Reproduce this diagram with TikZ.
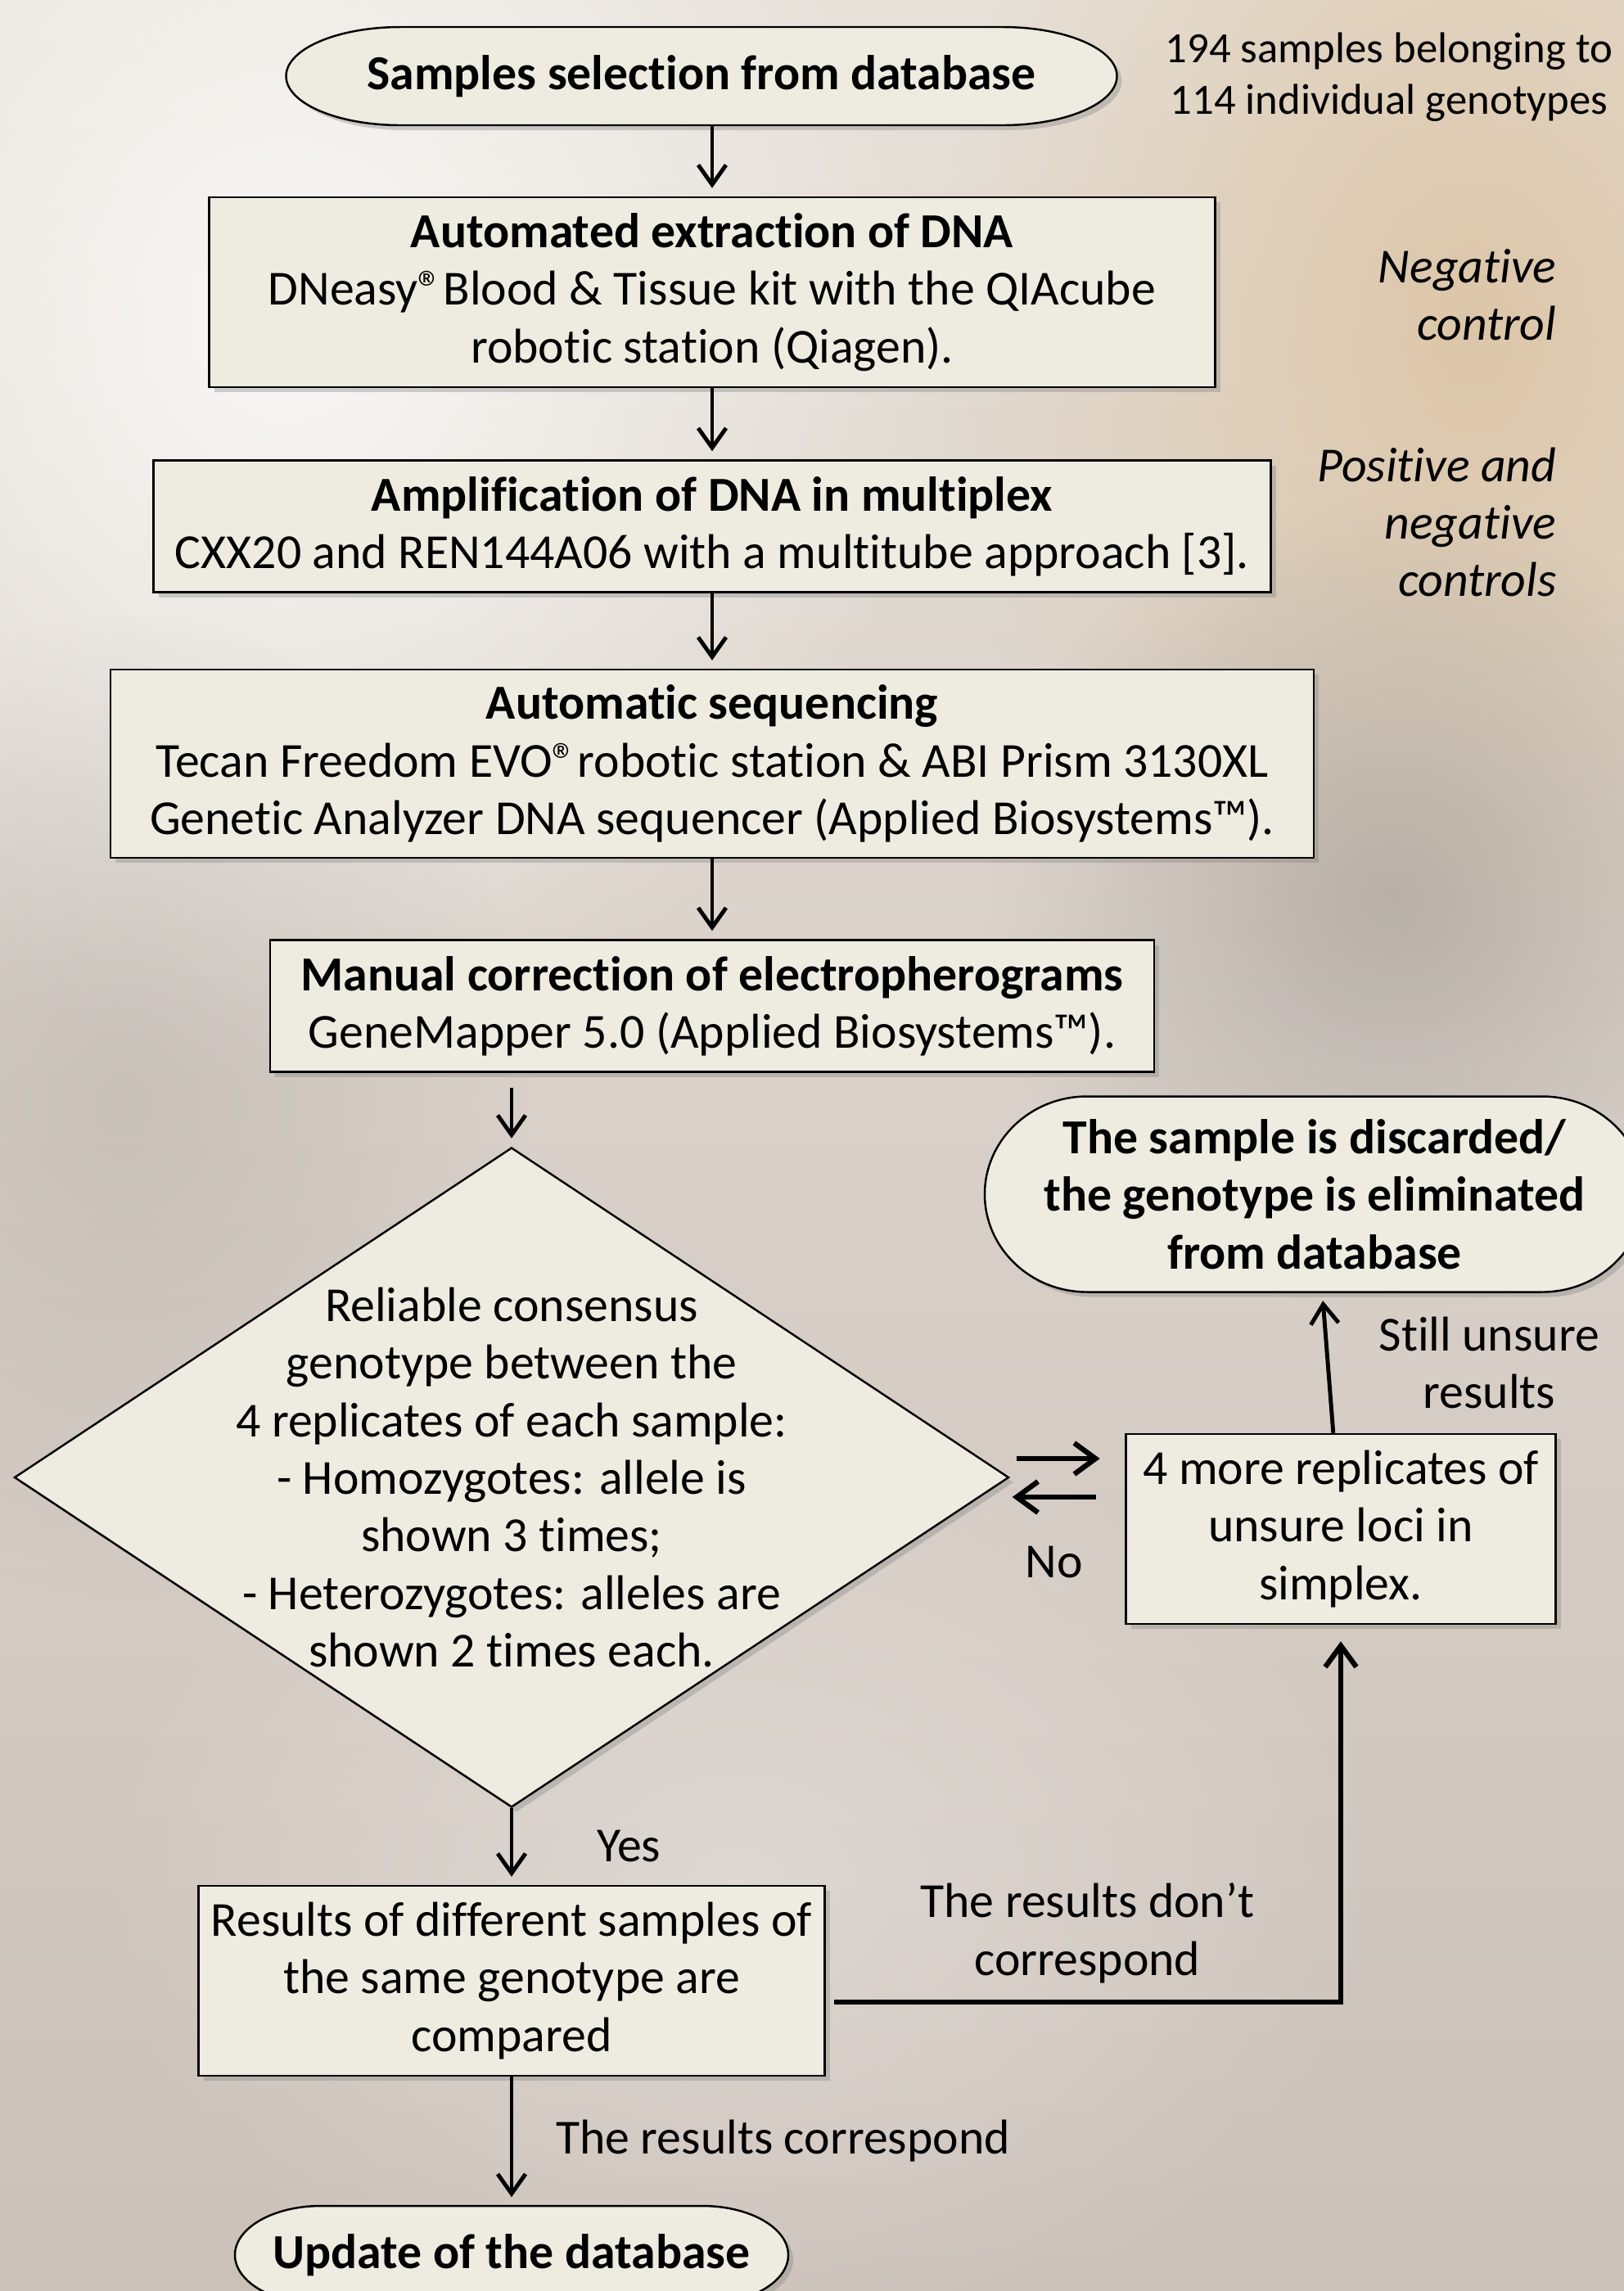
\documentclass[tikz,border=0pt]{standalone}
\usepackage{fontspec}
\setmainfont{Carlito}[Ligatures=NoCommon]
\usetikzlibrary{arrows.meta,shapes.geometric,shadows,fadings}

\definecolor{boxfill}{HTML}{EEECE1}
\definecolor{bgtop}{RGB}{230,224,216}
\definecolor{bgmid}{RGB}{204,195,187}
\definecolor{bgbot}{RGB}{203,193,185}
\definecolor{bgtan}{RGB}{220,196,164}
\definecolor{bghaze}{RGB}{160,155,150}

\tikzfading[name=soft, inner color=transparent!0, outer color=transparent!100]

\newcommand{\fs}{\fontsize{17}{20}\selectfont}
\newcommand{\reg}{®\kern-.22em}

% terminator: name, centre, width, height, end radius, text
\newcommand{\terminator}[6]{%
  \path[termshape] (#2) ++(-#3/2+#5,#4/2) -- ++(#3-2*#5,0)
    arc[start angle=90, end angle=-90, x radius=#5, y radius=#4/2]
    -- ++(-#3+2*#5,0)
    arc[start angle=270, end angle=90, x radius=#5, y radius=#4/2] -- cycle;
  \node[termtext, minimum width=#3cm, minimum height=#4cm] (#1) at (#2) {#6};}

\begin{document}
\begin{tikzpicture}
    [box/.style={draw, fill=boxfill, line width=.7pt, align=center, inner sep=0pt,
        drop shadow={shadow xshift=.6mm, shadow yshift=-.6mm, opacity=.35}},
    termshape/.style={draw, fill=boxfill, line width=.7pt,
        drop shadow={shadow xshift=.6mm, shadow yshift=-.6mm, opacity=.35}},
    termtext/.style={font=\fs\bfseries, align=center, inner sep=0pt},
    decision/.style={diamond, draw, fill=boxfill, line width=.7pt, inner sep=0pt,
        drop shadow={shadow xshift=.6mm, shadow yshift=-.6mm, opacity=.35}},
    flow/.style={-{Straight Barb[length=2.4mm, width=3.4mm]}, line width=1.4pt, shorten >=1mm},
    heavy/.style={-{Straight Barb[length=2.6mm, width=3.8mm]}, line width=1.8pt},
    note/.style={align=center, inner sep=0pt},
    blob/.style={path fading=soft},
    font=\fs]

    \clip [use as bounding box] (0,0) rectangle (19.84,-27.99);

    % blurred photo behind
    \shade [top color=bgtop, middle color=bgmid, bottom color=bgbot] (0,0) rectangle (19.84,-27.99);
    \fill [white, opacity=.8, blob] (3.5,-4) ellipse (8 and 9);
    \fill [bgtan, opacity=.9, blob] (18,-4) ellipse (6.5 and 9);
    \fill [bghaze, opacity=.6, blob] (17,-11) ellipse (5 and 5);
    \fill [bghaze, opacity=.3, blob] (1.5,-13.5) ellipse (5 and 6);
    \fill [white, opacity=.3, blob] (9,-23) ellipse (8 and 6);

    \terminator{sel}{8.57,-0.93}{10.15}{1.2}{1.4}{Samples selection from database}
    \node [note, font=\fontsize{15}{17.8}\selectfont] (samp) at (16.97,-0.94)
        {194 samples belonging to\\114 individual genotypes};

    \node [box, minimum width=12.29cm, minimum height=2.32cm] (extr) at (8.7,-3.57)
        {\textbf{Automated extraction of DNA}\\DNeasy\reg{} Blood \& Tissue kit with the QIAcube\\robotic station (Qiagen).};
    \node [note, font=\fs\itshape, align=right, anchor=east] (negc) at (19.02,-3.60) {Negative\\control};

    \node [box, minimum width=13.65cm, minimum height=1.61cm] (ampl) at (8.7,-6.43)
        {\textbf{Amplification of DNA in multiplex}\\CXX20 and REN144A06 with a multitube approach [3].};
    \node [note, font=\fs\itshape, align=right, anchor=east] (posc) at (19.02,-6.38) {Positive and\\negative\\controls};

    \node [box, minimum width=14.70cm, minimum height=2.30cm] (seq) at (8.7,-9.33)
        {\textbf{Automatic sequencing}\\Tecan Freedom EVO\reg{} robotic station \& ABI Prism 3130XL\\Genetic Analyzer DNA sequencer (Applied Biosystems™).};

    \node [box, minimum width=10.80cm, minimum height=1.61cm] (corr) at (8.7,-12.29)
        {\textbf{Manual correction of electropherograms}\\GeneMapper 5.0 (Applied Biosystems™).};

    \node [decision, minimum width=12.15cm, minimum height=8.06cm] (cons) at (6.25,-18.05) {};
    \node [note] (constext) at (cons.center) {Reliable consensus\\genotype between the\\4 replicates of each sample:\\- Homozygotes: allele is\\shown 3 times;\\- Heterozygotes: alleles are\\shown 2 times each.};

    \terminator{disc}{16.06,-14.59}{8.06}{2.39}{1.25}{The sample is discarded/\\the genotype is eliminated\\from database}

    \node [box, minimum width=5.25cm, minimum height=2.32cm] (repl) at (16.38,-18.68)
        {4 more replicates of\\unsure loci in\\simplex.};

    \node [box, minimum width=7.65cm, minimum height=2.32cm] (comp) at (6.25,-24.20)
        {Results of different samples of\\the same genotype are\\compared};

    \terminator{upd}{6.25,-27.55}{6.76}{1.2}{1.05}{Update of the database}

    \draw [flow] (sel.south -| extr.north) -- (extr.north);
    \draw [flow] (extr) -- (ampl);
    \draw [flow] (ampl) -- (seq);
    \draw [flow] (seq) -- (corr);
    \draw [flow] ([yshift=-1.8mm]corr.south -| cons.north) -- (cons.north);
    \draw [flow] (cons.south) -- (comp.north) node [midway, right=9mm] {Yes};
    \draw [flow] (comp) -- (upd) node [midway, right=4mm] {The results correspond};
    \draw [flow] (repl) -- (disc) node [note, midway, right=6mm] {Still unsure\\results};

    \draw [heavy] ([xshift=.8mm, yshift=2.3mm]cons.east) -- ++(1.02,0);
    \draw [heavy] ([xshift=10.5mm, yshift=-2.4mm]cons.east) -- ++(-1.02,0)
        node [midway, below=4.5mm] {No};

    \draw [heavy, shorten >=2mm] ([xshift=1mm, yshift=-2.6mm]comp.east) -| (repl.south)
        node [note, pos=.25, above=2mm] {The results don’t\\correspond};
\end{tikzpicture}
\end{document}
